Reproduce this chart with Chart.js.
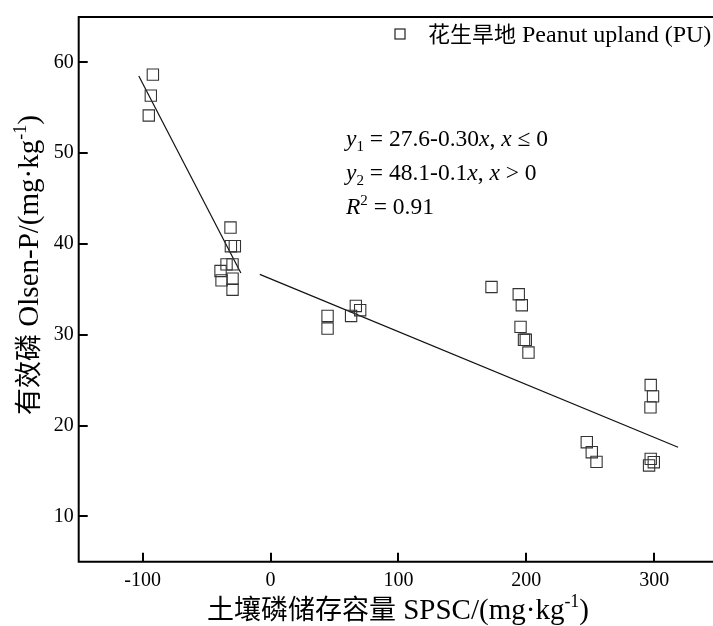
<!DOCTYPE html>
<html>
<head>
<meta charset="utf-8">
<script src="https://cdn.jsdelivr.net/npm/chart.js@4.4.1/dist/chart.umd.min.js"></script>
<style>
  html, body { margin: 0; padding: 0; background: #fff; }
</style>
</head>
<body>
<canvas id="chart" width="713" height="626"></canvas>
<script>
// measured points (SPSC, Olsen-P)
const ptX = [-92.0, -93.6, -95.2,
  -31.3, -31.0, -27.9, -34.4, -29.7, -39.1, -38.3, -29.7, -29.7,
  44.6, 44.6, 63.0, 66.7, 70.1,
  172.8, 194.1, 196.5, 195.5, 199.6, 198.2, 201.7,
  247.3, 251.2, 254.9,
  297.3, 299.1, 297.1, 297.3, 299.7, 296.0];
const ptY = [58.65, 56.34, 54.15,
  41.81, 39.75, 39.75, 37.75, 37.75, 37.02, 35.99, 36.17, 34.96,
  32.07, 30.68, 32.07, 33.17, 32.70,
  35.26, 34.46, 33.25, 30.87, 29.44, 29.44, 28.04,
  18.16, 17.06, 16.00,
  24.46, 23.21, 22.00, 16.33, 15.96, 15.60];

// fitted segments, end points
const fit1X = [-103, -23.2];
const fit1Y = [58.5, 36.8];
const fit2X = [-8.4, 318.7];
const fit2Y = [36.65, 17.6];

const xTicks = [-100, 0, 100, 200, 300];
const yTicks = [10, 20, 30, 40, 50, 60];

const serif = '"Liberation Serif", "Noto Sans CJK SC"';
const cjk = '"Noto Sans CJK SC"';

function runFont(r, size) {
  return (r.it ? 'italic ' : '') + size + 'px ' + (r.cjk ? cjk : serif);
}

// draw a line of text made of runs (italic / sub / sup / cjk)
function drawRich(ctx, runs, x, y, align) {
  let w = 0;
  runs.forEach(function (r) {
    r._s = (r.sub || r.sup) ? Math.round(r.size * 0.62) : r.size;
    ctx.font = runFont(r, r._s);
    r._w = ctx.measureText(r.t).width;
    w += r._w;
  });
  let cx = align === 'center' ? x - w / 2 : x;
  ctx.textAlign = 'left';
  ctx.textBaseline = 'alphabetic';
  runs.forEach(function (r) {
    ctx.font = runFont(r, r._s);
    let dy = r.sub ? r.size * 0.22 : (r.sup ? -r.size * 0.4 : 0);
    ctx.fillText(r.t, cx, y + dy);
    cx += r._w;
  });
}

const frame = {
  id: 'frame',
  afterDraw(chart) {
    const ctx = chart.ctx;
    const a = chart.chartArea;
    const sx = chart.scales.x, sy = chart.scales.y;
    ctx.save();
    ctx.strokeStyle = '#000';
    ctx.lineWidth = 2;
    ctx.beginPath();
    ctx.moveTo(a.right + 2, a.top);
    ctx.lineTo(a.left, a.top);
    ctx.lineTo(a.left, a.bottom);
    ctx.lineTo(a.right + 2, a.bottom);
    xTicks.forEach(function (v) {
      const p = Math.round(sx.getPixelForValue(v));
      ctx.moveTo(p, a.bottom);
      ctx.lineTo(p, a.bottom - 9);
    });
    yTicks.forEach(function (v) {
      const p = Math.round(sy.getPixelForValue(v));
      ctx.moveTo(a.left, p);
      ctx.lineTo(a.left + 9, p);
    });
    ctx.stroke();

    // legend
    ctx.lineWidth = 1.2;
    ctx.strokeStyle = '#222';
    ctx.strokeRect(395, 29, 10, 10);
    ctx.fillStyle = '#000';
    drawRich(ctx, [
      { t: '花生旱地', size: 22, cjk: true },
      { t: ' Peanut upland (PU)', size: 24 }
    ], 428, 42);

    // equations
    const fs = 23.5;
    drawRich(ctx, [
      { t: 'y', size: fs, it: true }, { t: '1', size: fs, sub: true },
      { t: ' = 27.6-0.30', size: fs }, { t: 'x', size: fs, it: true },
      { t: ', ', size: fs }, { t: 'x', size: fs, it: true }, { t: ' ≤ 0', size: fs }
    ], 346, 146);
    drawRich(ctx, [
      { t: 'y', size: fs, it: true }, { t: '2', size: fs, sub: true },
      { t: ' = 48.1-0.1', size: fs }, { t: 'x', size: fs, it: true },
      { t: ', ', size: fs }, { t: 'x', size: fs, it: true }, { t: ' > 0', size: fs }
    ], 346, 180);
    drawRich(ctx, [
      { t: 'R', size: fs, it: true }, { t: '2', size: fs, sup: true },
      { t: ' = 0.91', size: fs }
    ], 346, 214);

    // axis titles
    drawRich(ctx, [
      { t: '土壤磷储存容量', size: 27, cjk: true },
      { t: ' SPSC/(mg·kg', size: 29 },
      { t: '-1', size: 29, sup: true },
      { t: ')', size: 29 }
    ], 398, 619, 'center');

    ctx.translate(38, 265);
    ctx.rotate(-Math.PI / 2);
    drawRich(ctx, [
      { t: '有效磷', size: 27, cjk: true },
      { t: ' Olsen-P/(mg·kg', size: 29 },
      { t: '-1', size: 29, sup: true },
      { t: ')', size: 29 }
    ], 0, 0, 'center');
    ctx.restore();
  }
};

new Chart(document.getElementById('chart'), {
  type: 'scatter',
  data: {
    datasets: [
      {
        label: '花生旱地 Peanut upland (PU)',
        data: ptX.map(function (x, i) { return { x: x, y: ptY[i] }; }),
        pointStyle: 'rect',
        pointRadius: 8,
        pointBorderWidth: 1.1,
        borderColor: '#333',
        backgroundColor: 'rgba(0,0,0,0)',
      },
      {
        type: 'line',
        data: fit1X.map(function (x, i) { return { x: x, y: fit1Y[i] }; }),
        borderColor: '#111',
        borderWidth: 1.2,
        pointRadius: 0,
        fill: false,
      },
      {
        type: 'line',
        data: fit2X.map(function (x, i) { return { x: x, y: fit2Y[i] }; }),
        borderColor: '#111',
        borderWidth: 1.2,
        pointRadius: 0,
        fill: false,
      },
    ],
  },
  options: {
    responsive: false,
    animation: false,
    layout: { autoPadding: false, padding: { top: 15, left: 0, right: 0, bottom: 0 } },
    plugins: {
      legend: { display: false },
      tooltip: { enabled: false },
    },
    scales: {
      x: {
        type: 'linear',
        min: -150,
        max: 346,
        afterBuildTicks: function (scale) {
          scale.ticks = xTicks.map(function (v) { return { value: v }; });
        },
        afterFit: function (scale) { scale.height = 64.3; },
        grid: { display: false, drawTicks: false },
        border: { display: false },
        ticks: {
          padding: 7,
          color: '#000',
          font: { family: serif, size: 20 },
        },
      },
      y: {
        min: 5,
        max: 65,
        afterBuildTicks: function (scale) {
          scale.ticks = yTicks.map(function (v) { return { value: v }; });
        },
        afterFit: function (scale) { scale.width = 78.7; },
        grid: { display: false, drawTicks: false },
        border: { display: false },
        ticks: {
          padding: 5,
          color: '#000',
          font: { family: serif, size: 20 },
        },
      },
    },
  },
  plugins: [frame],
});
</script>
</body>
</html>
